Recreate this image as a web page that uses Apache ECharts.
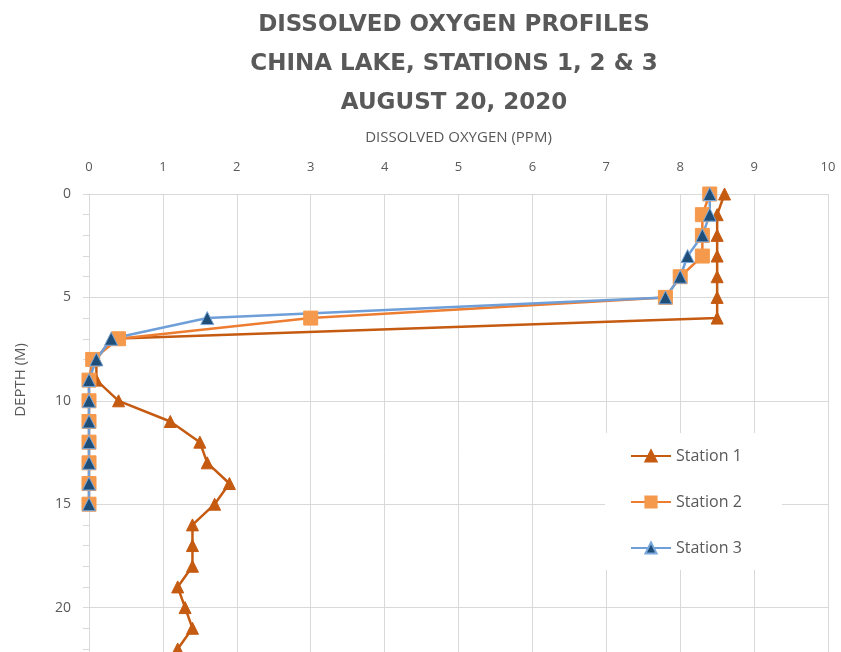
<!DOCTYPE html>
<html>
<head>
<meta charset="utf-8">
<title>Dissolved Oxygen Profiles</title>
<script src="https://cdn.jsdelivr.net/npm/echarts@6/dist/echarts.min.js"></script>
<style>
  html, body { margin: 0; padding: 0; background: #fff; overflow: hidden; }
  /* the plot runs past the bottom of the window, as in the cropped original */
  #chart { width: 841px; height: 718px; }
</style>
</head>
<body>
<div id="chart"></div>
<script>
// depth (m) and dissolved oxygen (ppm)
var depths1 = [0, 1, 2, 3, 4, 5, 6, 7, 8, 9, 10, 11, 12, 13, 14, 15, 16, 17, 18, 19, 20, 21, 22]
var station1 = [8.6, 8.5, 8.5, 8.5, 8.5, 8.5, 8.5, 0.3, 0.1, 0.1, 0.4, 1.1, 1.5, 1.6, 1.9, 1.7, 1.4, 1.4, 1.4, 1.2, 1.3, 1.4, 1.2]

var depths2 = [0, 1, 2, 3, 4, 5, 6, 7, 8, 9, 10, 11, 12, 13, 14, 15]
var station2 = [8.4, 8.3, 8.3, 8.3, 8.0, 7.8, 3.0, 0.4, 0.05, 0, 0, 0, 0, 0, 0, 0]

var depths3 = [0, 1, 2, 3, 4, 5, 6, 7, 8, 9, 10, 11, 12, 13, 14, 15]
var station3 = [8.4, 8.4, 8.3, 8.1, 8.0, 7.8, 1.6, 0.3, 0.1, 0, 0, 0, 0, 0, 0, 0]

var seriesNames = ['Station 1', 'Station 2', 'Station 3']
var titleLines = ['DISSOLVED OXYGEN PROFILES', 'CHINA LAKE, STATIONS 1, 2 & 3', 'AUGUST 20, 2020']

var gridColor = '#d9d9d9'
var textColor = '#595959'

function pairs (xs, ys) {
  return xs.map(function (x, i) { return [x, ys[i]] })
}

var chart = echarts.init(document.getElementById('chart'))

var option = {
  animation: false,
  backgroundColor: '#fff',
  textStyle: {
    fontFamily: 'Open Sans'
  },
  title: {
    text: titleLines.join('\n'),
    left: 449,
    top: 1,
    textAlign: 'center',
    textStyle: {
      fontFamily: 'DejaVu Sans',
      fontWeight: 'bold',
      fontSize: 23,
      lineHeight: 39,
      color: textColor
    }
  },
  legend: {
    orient: 'vertical',
    left: 605,
    top: 433,
    padding: [15, 40, 14, 25],
    itemGap: 30,
    itemWidth: 40,
    itemHeight: 14,
    backgroundColor: '#fff',
    data: seriesNames,
    textStyle: {
      fontSize: 16,
      color: textColor,
      fontFamily: 'Open Sans'
    }
  },
  grid: {
    left: 89,
    right: 13,
    top: 194,
    bottom: 3
  },
  xAxis: {
    type: 'value',
    position: 'top',
    min: 0,
    max: 10,
    interval: 1,
    name: 'DISSOLVED OXYGEN (PPM)',
    nameLocation: 'middle',
    nameGap: 49,
    nameTextStyle: {
      fontSize: 15,
      color: textColor
    },
    axisLine: { show: false },
    axisTick: { show: false },
    axisLabel: {
      margin: 20,
      fontSize: 13,
      color: textColor
    },
    splitLine: {
      show: true,
      lineStyle: { color: gridColor, width: 1 }
    }
  },
  yAxis: {
    type: 'value',
    inverse: true,
    min: 0,
    max: 25,
    interval: 5,
    axisLine: {
      show: true,
      onZero: false,
      lineStyle: { color: gridColor }
    },
    axisTick: {
      show: true,
      length: 6,
      lineStyle: { color: gridColor }
    },
    minorTick: {
      show: true,
      splitNumber: 5,
      length: 6,
      lineStyle: { color: gridColor }
    },
    axisLabel: {
      margin: 18,
      fontSize: 14,
      color: textColor
    },
    splitLine: {
      show: true,
      lineStyle: { color: gridColor, width: 1 }
    }
  },
  graphic: [{
    type: 'text',
    left: 13,
    top: 343,
    rotation: Math.PI / 2,
    style: {
      text: 'DEPTH (M)',
      fontSize: 15,
      fontFamily: 'Open Sans',
      fill: textColor
    }
  }],
  series: [
    {
      name: seriesNames[0],
      type: 'line',
      data: pairs(station1, depths1),
      symbol: 'triangle',
      symbolSize: 12,
      lineStyle: { color: '#c55a11', width: 2.5 },
      itemStyle: { color: '#c55a11', borderColor: '#c55a11', borderWidth: 1 }
    },
    {
      name: seriesNames[1],
      type: 'line',
      data: pairs(station2, depths2),
      symbol: 'rect',
      symbolSize: 14,
      lineStyle: { color: '#ed7d31', width: 2.5 },
      itemStyle: { color: '#f59a4c', borderColor: '#f59a4c', borderWidth: 1 }
    },
    {
      name: seriesNames[2],
      type: 'line',
      data: pairs(station3, depths3),
      symbol: 'triangle',
      symbolSize: 13,
      lineStyle: { color: '#6f9fd8', width: 2.5 },
      itemStyle: { color: '#1f4e79', borderColor: '#7aa8dc', borderWidth: 1 }
    }
  ]
}

chart.setOption(option)
</script>
</body>
</html>
